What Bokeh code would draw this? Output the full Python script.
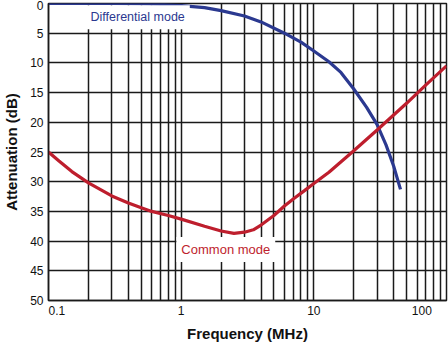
from bokeh.plotting import figure
from bokeh.models import Range1d, FixedTicker, Label
from bokeh.embed import file_html
from bokeh.resources import INLINE

# ---- data ----
diff_freq = [0.1, 0.3, 0.5, 0.7, 1.0, 1.5, 2, 3, 4, 6, 8, 10, 13, 16, 20, 25, 30, 35, 40, 45]
diff_db = [0.0, 0.0, 0.05, 0.15, 0.35, 0.7, 1.2, 2.1, 3.1, 5.0, 6.5, 8.0, 9.8, 11.6, 14.4, 17.5, 20.4, 23.8, 27.4, 31.3]

cm_freq = [0.1, 0.12, 0.15, 0.2, 0.3, 0.4, 0.5, 0.6, 0.8, 1.0, 1.5, 2.0, 2.5, 3.0, 3.5, 4.0, 5.0, 6.0, 7.0, 8.5, 10, 13, 20, 30, 50, 70, 100]
cm_db = [25.0, 26.5, 28.3, 30.2, 32.4, 33.6, 34.4, 35.0, 35.7, 36.3, 37.5, 38.3, 38.7, 38.5, 38.1, 37.3, 35.7, 34.1, 32.9, 31.5, 30.3, 28.4, 24.8, 21.3, 16.8, 13.7, 10.5]

x_tick_values = [0.1, 1, 10, 100]
x_tick_labels = ["0.1", "1", "10", "100"]
x_minor_values = [0.2, 0.3, 0.4, 0.5, 0.6, 0.7, 0.8, 0.9,
                  2, 3, 4, 5, 6, 7, 8, 9,
                  20, 30, 40, 50, 60, 70, 80, 90]
y_tick_values = [0, 5, 10, 15, 20, 25, 30, 35, 40, 45, 50]
y_tick_labels = ["0", "5", "10", "15", "20", "25", "30", "35", "40", "45", "50"]

series_names = ["Differential mode", "Common mode"]
diff_label_pos = (0.47, 2.3)
cm_label_pos = (2.17, 41.4)

FONT = "Liberation Sans"
BLUE = "#2b3990"
RED = "#be1e2d"
GRID = "#1a1a1a"
NB = "\u00a0"

p = figure(width=448, height=344, x_axis_type="log",
           x_range=Range1d(x_tick_values[0], x_tick_values[-1]),
           y_range=Range1d(y_tick_values[-1], y_tick_values[0]),
           output_backend="svg", toolbar_location=None,
           min_border_left=46, min_border_right=2, min_border_top=3, min_border_bottom=40,
           background_fill_color="white", border_fill_color="white")

p.outline_line_color = GRID
p.outline_line_width = 1.5

# the edge labels sit inward of their ticks in the reference
x_label_text = list(x_tick_labels)
x_label_text[0] = NB * 5 + x_label_text[0]
x_label_text[-1] = x_label_text[-1] + NB * 5

p.xaxis.ticker = FixedTicker(ticks=x_tick_values, minor_ticks=x_minor_values)
p.xaxis.major_label_overrides = {v: l for v, l in zip(x_tick_values, x_label_text)}
p.yaxis.ticker = FixedTicker(ticks=y_tick_values)
p.yaxis.major_label_overrides = {v: l for v, l in zip(y_tick_values, y_tick_labels)}

for ax in (p.xaxis, p.yaxis):
    ax.axis_line_color = GRID
    ax.axis_line_width = 1.5
    ax.major_tick_out = 0
    ax.major_tick_in = 0
    ax.minor_tick_out = 0
    ax.minor_tick_in = 0
    ax.major_label_text_font = FONT
    ax.major_label_text_font_size = "12px"
    ax.major_label_text_color = "#111111"
    ax.axis_label_text_font = FONT
    ax.axis_label_text_font_style = "bold"
    ax.axis_label_text_font_size = "15px"
    ax.axis_label_text_color = "#111111"

p.xaxis.axis_label = "Frequency (MHz)"
p.yaxis.axis_label = "Attenuation (dB)"
p.xaxis.major_label_standoff = 3
p.xaxis.axis_label_standoff = 4
p.yaxis.major_label_standoff = 5
p.yaxis.axis_label_standoff = 7

inner = x_tick_values[1:-1]
p.xgrid.ticker = FixedTicker(ticks=inner, minor_ticks=x_minor_values)
p.xgrid.grid_line_color = GRID
p.xgrid.grid_line_width = 1.5
p.xgrid.minor_grid_line_color = GRID
p.xgrid.minor_grid_line_width = 1.5
p.ygrid.ticker = FixedTicker(ticks=y_tick_values)
p.ygrid.grid_line_color = GRID
p.ygrid.grid_line_width = 1.5

p.line(diff_freq, diff_db, line_color=BLUE, line_width=3.2)
p.line(cm_freq, cm_db, line_color=RED, line_width=3.2)

p.add_layout(Label(x=diff_label_pos[0], y=diff_label_pos[1], text=series_names[0],
                   text_align="center", text_baseline="middle",
                   text_font=FONT, text_font_size="12.5px", text_color=BLUE,
                   background_fill_color="white", padding=5))
p.add_layout(Label(x=cm_label_pos[0], y=cm_label_pos[1], text=series_names[1],
                   text_align="center", text_baseline="middle",
                   text_font=FONT, text_font_size="13px", text_color=RED,
                   background_fill_color="white", padding=5))

open("out.html", "w").write(file_html(p, INLINE))
